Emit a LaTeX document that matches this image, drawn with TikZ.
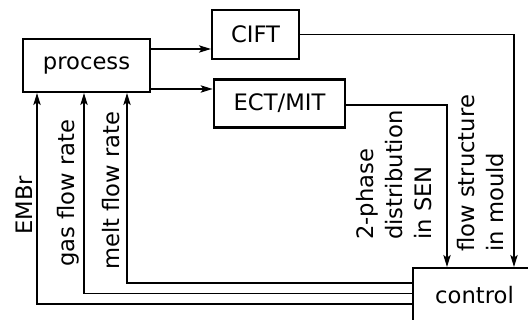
\documentclass[tikz,border=0pt]{standalone}
\usepackage{fontspec}
\setmainfont{DejaVu Sans}
\usetikzlibrary{arrows.meta}
\begin{document}
\begin{tikzpicture}[x=0.75pt,y=-0.75pt,
  box/.style={draw,line width=1.5pt,inner sep=0pt,font=\fontsize{17}{21}\selectfont},
  conn/.style={line width=1.1pt,-{Stealth[length=9pt,width=5.5pt,inset=2pt]}},
  lab/.style={rotate=90,inner sep=0pt,font=\fontsize{17}{21.75}\selectfont}]
\useasboundingbox (0,0) rectangle (528,320);
\node[box,minimum width=127*0.75pt,minimum height=53*0.75pt] (process) at (86.5,65.5) {process};
\node[box,minimum width=87*0.75pt,minimum height=49*0.75pt] (cift) at (255.5,34.5) {CIFT};
\node[box,line width=2pt,minimum width=131*0.75pt,minimum height=48*0.75pt] (ect) at (279.5,103.5) {ECT/MIT};
\node[box,minimum width=123*0.75pt,minimum height=54*0.75pt] (control) at (474.5,295) {control};
% outputs of process
\draw[conn] (process.east |- 0,49) -- (cift.west |- 0,49);
\draw[conn] (process.east |- 0,89) -- (ect.west |- 0,89);
% measurements to control
\draw[conn] (cift.east) -- (514,34.5) -- (control.north -| 514,0);
\draw[conn] (ect.east |- 0,105) -- (447,105) -- (control.north -| 447,0);
% control signals to process
\draw[conn] (control.west |- 0,283) -- (127,283) -- (process.south -| 127,0);
\draw[conn] (control.west |- 0,293.5) -- (84,293.5) -- (process.south -| 84,0);
\draw[conn] (control.west |- 0,304) -- (37,304) -- (process.south -| 37,0);
% labels
\node[lab,anchor=base west] (lembr) at (32,235) {EMBr};
\node[lab,anchor=base west] (lgas) at (74,267) {gas flow rate};
\node[lab,anchor=base west] (lmelt) at (119,270) {melt flow rate};
\node[lab,anchor=south west,align=left] (lsen) at (432,240) {2-phase\\distribution\\in SEN};
\node[lab,anchor=south west,align=left] (lmould) at (504,252) {flow structure\\in mould};
\end{tikzpicture}
\end{document}
